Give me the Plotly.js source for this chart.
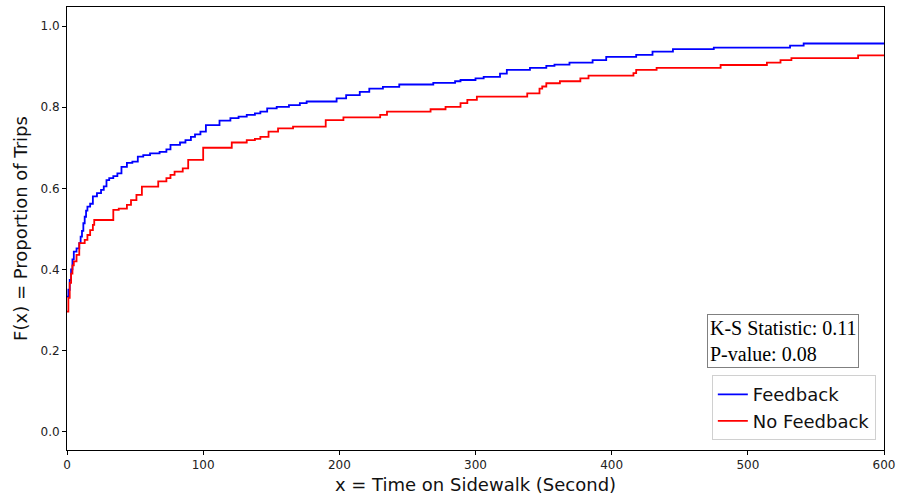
<!DOCTYPE html>
<html>
<head>
<meta charset="utf-8">
<script src="https://cdn.plot.ly/plotly-3.0.1.min.js"></script>
<style>html,body{margin:0;padding:0;background:#fff;}#chart{width:901px;height:502px;}</style>
</head>
<body>
<div id="chart"></div>
<script>
// Feedback ECDF breakpoints (time in seconds, cumulative proportion)
const feedbackX = [0,1,2,3,4,5,7,9,10,11,12,13,14,15,17,19,22,25,27,29,31,34,37,40,44,48,52,56,61,68,73,76,83,87,91,94,98,102,112,120,126,132,138,142,147,154,163,171,176,198,205,215,222,232,244,269,285,289,300,306,318,323,340,352,358,369,386,396,418,430,445,475,531,541,600];
const feedbackY = [0.333,0.35,0.374,0.40,0.425,0.444,0.452,0.465,0.481,0.495,0.514,0.53,0.545,0.555,0.562,0.58,0.588,0.596,0.605,0.62,0.625,0.63,0.637,0.653,0.663,0.666,0.678,0.682,0.686,0.69,0.696,0.707,0.713,0.719,0.727,0.733,0.74,0.756,0.767,0.773,0.777,0.781,0.785,0.789,0.797,0.801,0.805,0.81,0.814,0.822,0.83,0.838,0.846,0.85,0.856,0.86,0.864,0.867,0.871,0.875,0.883,0.892,0.897,0.902,0.905,0.91,0.916,0.924,0.929,0.937,0.943,0.947,0.952,0.957,0.957];

// No Feedback ECDF breakpoints
const noFeedbackX = [0,1,2,3,4,5,7,9,13,15,17,19,20,34,38,44,47,51,55,67,73,76,79,85,89,100,121,132,138,142,148,155,166,190,203,230,235,267,278,289,294,301,338,347,349,352,362,377,383,416,418,433,480,514,524,532,581,600];
const noFeedbackY = [0.296,0.33,0.367,0.39,0.41,0.42,0.436,0.465,0.473,0.485,0.497,0.51,0.522,0.547,0.55,0.559,0.571,0.584,0.604,0.617,0.625,0.633,0.641,0.649,0.67,0.70,0.713,0.719,0.722,0.727,0.74,0.748,0.752,0.768,0.775,0.781,0.789,0.795,0.801,0.81,0.818,0.826,0.834,0.846,0.851,0.859,0.864,0.871,0.878,0.884,0.892,0.897,0.904,0.91,0.916,0.921,0.928,0.928];

const xTicks = [0,100,200,300,400,500,600];
const yTicks = [0.0,0.2,0.4,0.6,0.8,1.0];
const yTickText = ['0.0','0.2','0.4','0.6','0.8','1.0'];
const statsText = 'K-S Statistic: 0.11<br>P-value: 0.08';

const traces = [
  {x: feedbackX, y: feedbackY, type: 'scatter', mode: 'lines', name: 'Feedback',
   line: {color: '#0000ff', width: 1.8, shape: 'hv'}},
  {x: noFeedbackX, y: noFeedbackY, type: 'scatter', mode: 'lines', name: 'No Feedback',
   line: {color: '#ff0000', width: 1.8, shape: 'hv'}}
];

const axisCommon = {
  showline: true, mirror: true, linecolor: '#000', linewidth: 1,
  ticks: 'outside', ticklen: 4, tickwidth: 1, tickcolor: '#000',
  showgrid: false, zeroline: false,
  tickfont: {family: 'DejaVu Sans', size: 12, color: '#222'}
};

const layout = {
  width: 901, height: 502,
  margin: {l: 67, r: 17, t: 7, b: 52},
  paper_bgcolor: '#fff', plot_bgcolor: '#fff',
  showlegend: true,
  xaxis: Object.assign({}, axisCommon, {
    range: [0, 600], tickvals: xTicks,
    title: {text: 'x = Time on Sidewalk (Second)', font: {family: 'DejaVu Sans', size: 18, color: '#111'}, standoff: 6}
  }),
  yaxis: Object.assign({}, axisCommon, {
    range: [-0.045, 1.047], tickvals: yTicks, ticktext: yTickText,
    title: {text: 'F(x) = Proportion of Trips', font: {family: 'DejaVu Sans', size: 18, color: '#111'}, standoff: 8}
  }),
  legend: {
    x: 0.99, y: 0.022, xanchor: 'right', yanchor: 'bottom',
    bgcolor: '#fff', bordercolor: '#d0d0d0', borderwidth: 1,
    font: {family: 'DejaVu Sans', size: 18, color: '#111'},
    tracegroupgap: 0
  },
  annotations: [{
    xref: 'paper', yref: 'paper', x: 0.876, y: 0.246,
    xanchor: 'center', yanchor: 'middle', showarrow: false,
    text: statsText, align: 'left',
    font: {family: 'Liberation Serif', size: 20, color: '#000'},
    bgcolor: '#fff', bordercolor: '#808080', borderwidth: 1, borderpad: 2
  }]
};

Plotly.newPlot('chart', traces, layout, {displayModeBar: false, staticPlot: true});
</script>
</body>
</html>
